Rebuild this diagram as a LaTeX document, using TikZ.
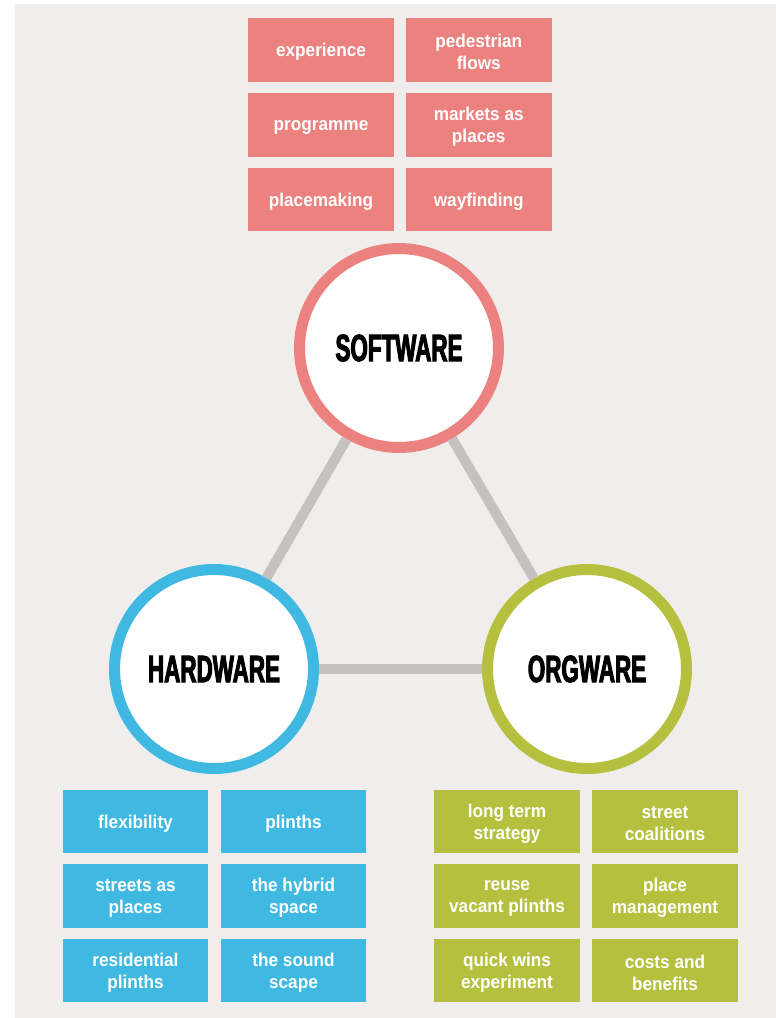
\documentclass[tikz,border=0pt]{standalone}
\usepackage{fontspec}
\setmainfont{Liberation Sans}
\newfontfamily\headfont[FakeStretch=0.59,BoldFeatures={FakeBold=2.5}]{Liberation Sans}
\newfontfamily\labfont[FakeStretch=0.93]{Liberation Sans}
\definecolor{bggray}{HTML}{EFEEEC}
\definecolor{softpink}{HTML}{EC827F}
\definecolor{hardblue}{HTML}{3FB9E2}
\definecolor{orggreen}{HTML}{B5C13E}
\definecolor{linkgray}{HTML}{C4C1C0}
\begin{document}
\begin{tikzpicture}[x=1pt,y=-1pt,
  hub/.style={circle, draw=#1, line width=11pt, fill=white, minimum size=199pt, inner sep=0pt,
    font=\headfont\bfseries\fontsize{38}{40}\selectfont},
  tile/.style={rectangle, fill=#1, minimum width=145.5pt, minimum height=63.5pt, inner sep=0pt},
  tiletext/.style={align=center, text=white, inner sep=0pt, yshift=-2pt,
    font=\labfont\bfseries\fontsize{18.5}{22}\selectfont},
  link/.style={draw=linkgray, line width=10pt}]
\useasboundingbox (0,0) rectangle (776,1018);
\fill[white] (0,0) rectangle (776,1018);
\fill[bggray] (15,4) rectangle (776,1018);

% hubs
\node[hub=softpink] (sw) at (399,348) {SOFTWARE};
\node[hub=hardblue] (hw) at (214,669) {HARDWARE};
\node[hub=orggreen] (ow) at (587,669) {ORGWARE};

% connectors
\draw[link] (sw) -- (hw);
\draw[link] (sw) -- (ow);
\draw[link] (hw) -- (ow);

% software tiles
\node[tile=softpink] (s1) at (321,50) {};
\node[tile=softpink] (s2) at (478.75,50) {};
\node[tile=softpink] (s3) at (321,125) {};
\node[tile=softpink] (s4) at (478.75,125) {};
\node[tile=softpink] (s5) at (321,199.5) {};
\node[tile=softpink] (s6) at (478.75,199.5) {};
\node[tiletext] (s1t) at (s1.center) {experience};
\node[tiletext] (s2t) at (s2.center) {pedestrian\\flows};
\node[tiletext] (s3t) at (s3.center) {programme};
\node[tiletext] (s4t) at (s4.center) {markets as\\places};
\node[tiletext] (s5t) at (s5.center) {placemaking};
\node[tiletext] (s6t) at (s6.center) {wayfinding};

% hardware tiles
\node[tile=hardblue] (h1) at (135.5,821.5) {};
\node[tile=hardblue] (h2) at (293.5,821.5) {};
\node[tile=hardblue] (h3) at (135.5,896) {};
\node[tile=hardblue] (h4) at (293.5,896) {};
\node[tile=hardblue] (h5) at (135.5,970.5) {};
\node[tile=hardblue] (h6) at (293.5,970.5) {};
\node[tiletext] (h1t) at (h1.center) {flexibility};
\node[tiletext] (h2t) at (h2.center) {plinths};
\node[tiletext] (h3t) at (h3.center) {streets as\\places};
\node[tiletext] (h4t) at (h4.center) {the hybrid\\space};
\node[tiletext] (h5t) at (h5.center) {residential\\plinths};
\node[tiletext] (h6t) at (h6.center) {the sound\\scape};

% orgware tiles
\node[tile=orggreen] (o1) at (507,821.5) {};
\node[tile=orggreen] (o2) at (665,821.5) {};
\node[tile=orggreen] (o3) at (507,896) {};
\node[tile=orggreen] (o4) at (665,896) {};
\node[tile=orggreen] (o5) at (507,970.5) {};
\node[tile=orggreen] (o6) at (665,970.5) {};
\node[tiletext] (o1t) at (o1.center) {long term\\strategy};
\node[tiletext] (o2t) at (o2.center) {street\\coalitions};
\node[tiletext] (o3t) at (o3.center) {reuse\\vacant plinths};
\node[tiletext] (o4t) at (o4.center) {place\\management};
\node[tiletext] (o5t) at (o5.center) {quick wins\\experiment};
\node[tiletext] (o6t) at (o6.center) {costs and\\benefits};
\end{tikzpicture}
\end{document}
